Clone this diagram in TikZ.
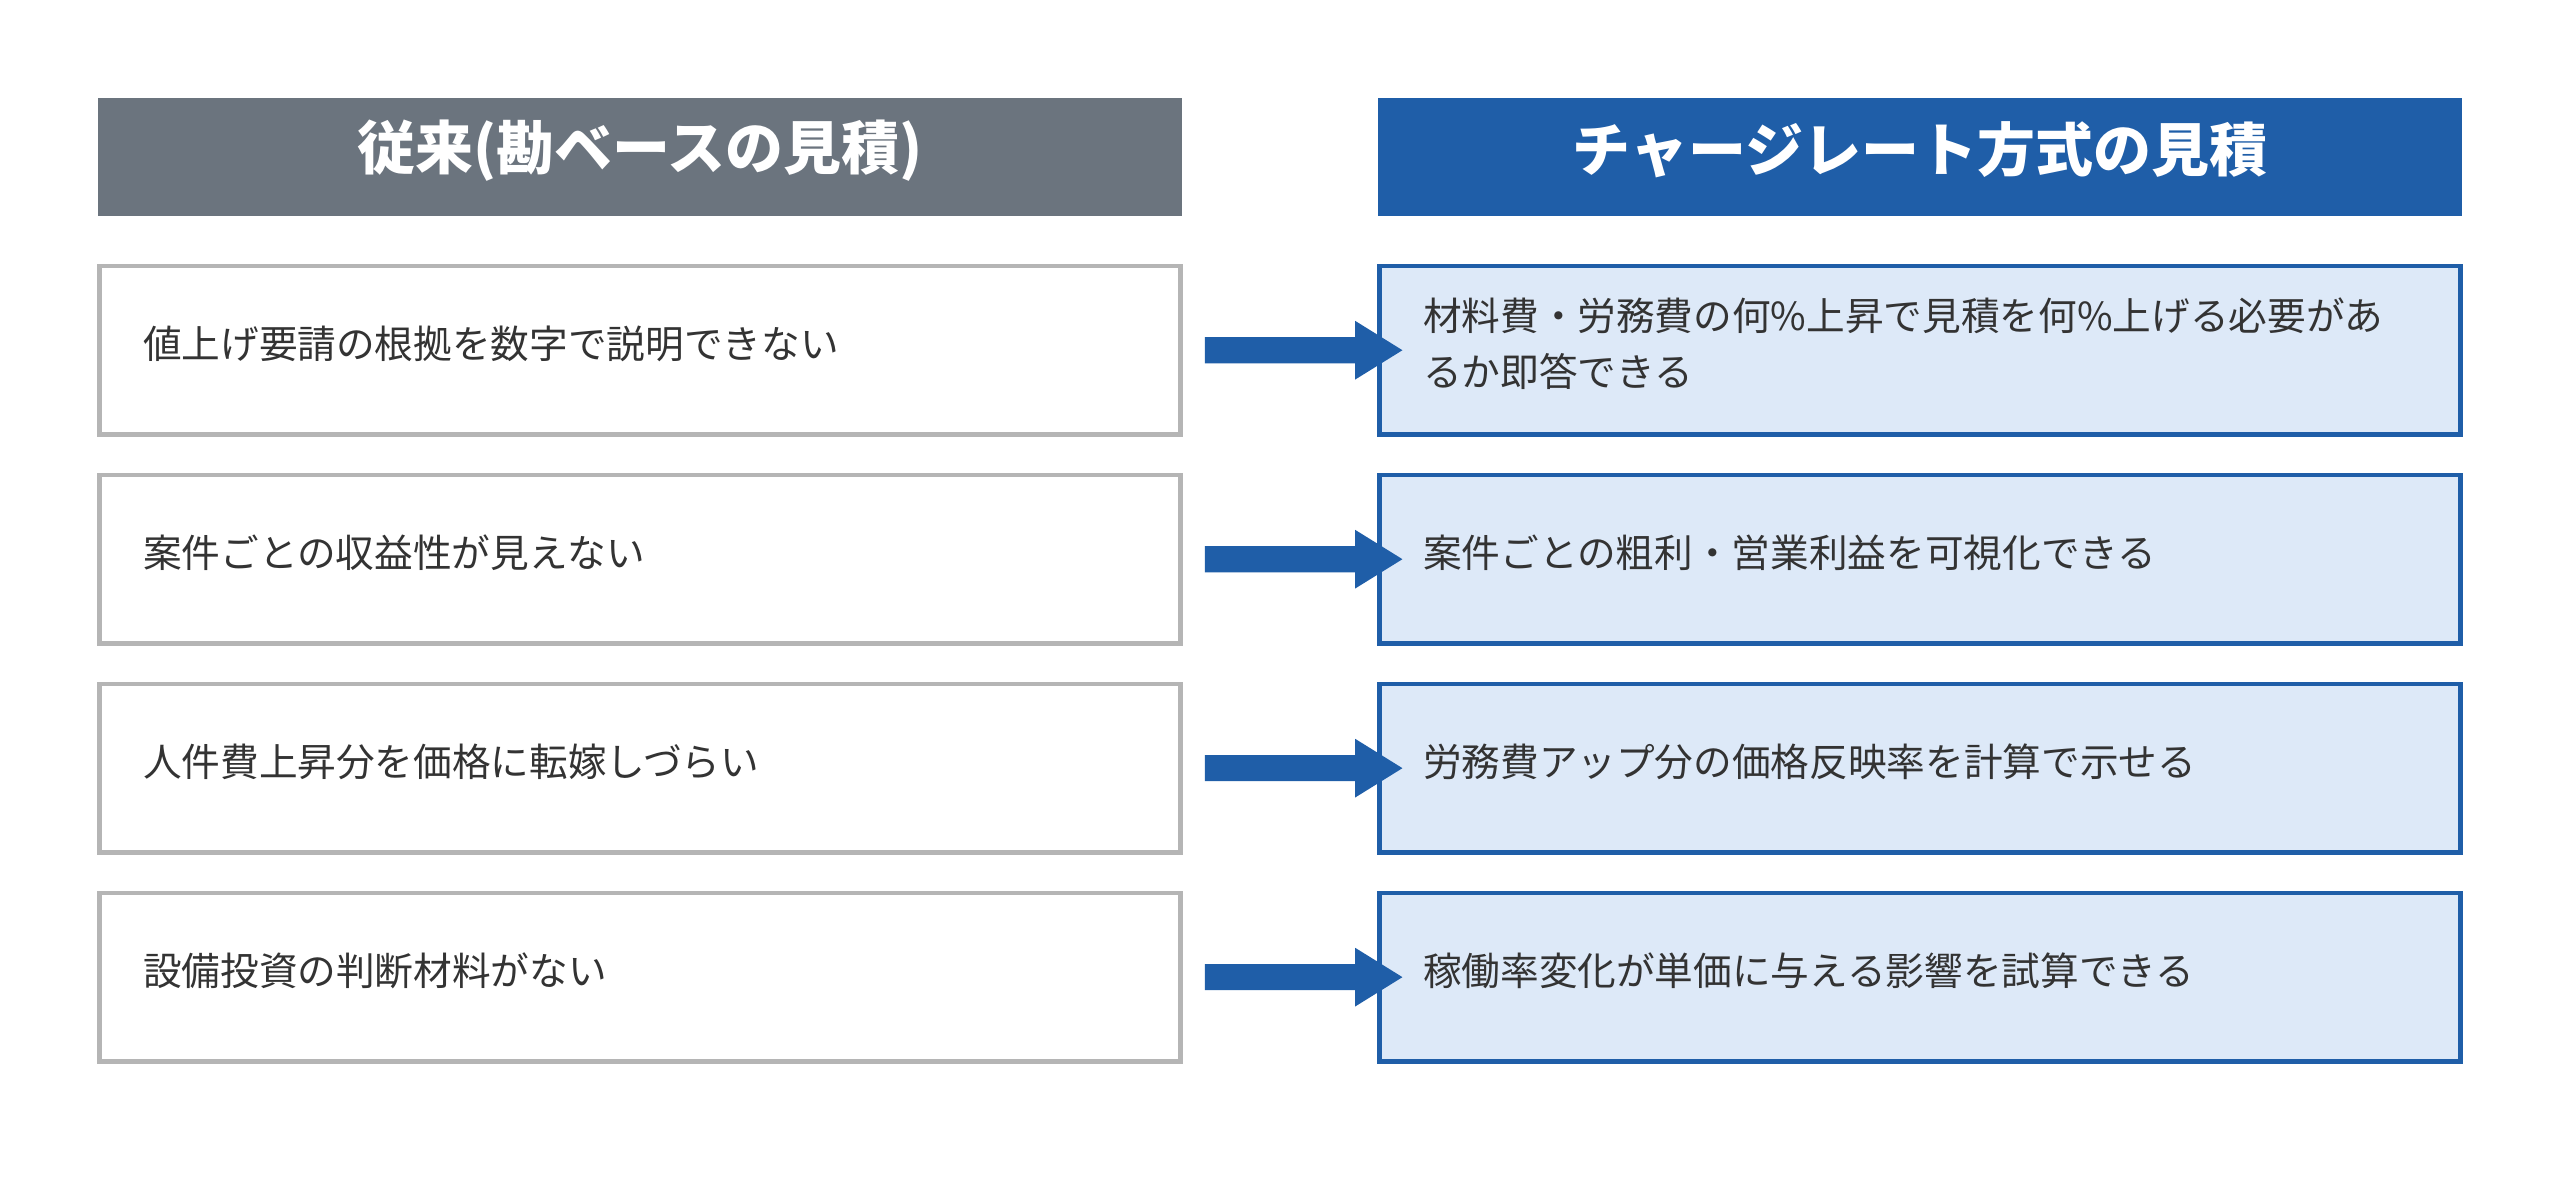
\documentclass[tikz,border=0pt]{standalone}
\usepackage{fontspec}
\setmainfont{Noto Sans CJK JP}
\definecolor{hgray}{HTML}{6B747E}
\definecolor{hblue}{HTML}{1F5EA8}
\definecolor{lblue}{HTML}{DDE9F8}
\definecolor{lgray}{HTML}{B5B5B5}
\definecolor{txt}{HTML}{333333}
\begin{document}
\begin{tikzpicture}[x=0.01633cm,y=-0.01633cm,
  hdr/.style={draw=none,minimum width=664\pgflinewidth,text=white,font=\fontsize{16.5}{20}\selectfont\bfseries},
  lbox/.style={draw=lgray,line width=1.3pt,fill=white},
  rbox/.style={draw=hblue,line width=1.3pt,fill=lblue},
  t/.style={anchor=west,text=txt,font=\fontsize{11}{16}\selectfont,align=left},
  arr/.style={draw=none,fill=hblue}]
\useasboundingbox (0,0) rectangle (1568,734);
\fill[hgray] (60,60) rectangle (724,132);
\fill[hblue] (844,60) rectangle (1508,132);
\node[text=white,font=\fontsize{16.5}{20}\selectfont\bfseries] (h1) at (392,92) {従来(勘ベースの見積)};
\node[text=white,font=\fontsize{16.5}{20}\selectfont\bfseries] (h2) at (1176,92) {チャージレート方式の見積};
\foreach \i/\l/\r in {0/{値上げ要請の根拠を数字で説明できない}/{材料費・労務費の何\%上昇で見積を何\%上げる必要があ\\るか即答できる},
  1/{案件ごとの収益性が見えない}/{案件ごとの粗利・営業利益を可視化できる},
  2/{人件費上昇分を価格に転嫁しづらい}/{労務費アップ分の価格反映率を計算で示せる},
  3/{設備投資の判断材料がない}/{稼働率変化が単価に与える影響を試算できる}}{
  \pgfmathsetmacro\yt{163+128*\i}
  \pgfmathsetmacro\yb{266+128*\i}
  \pgfmathsetmacro\yc{214.5+128*\i}
  \draw[lbox] (61,\yt) rectangle (723,\yb);
  \draw[rbox] (845,\yt) rectangle (1507,\yb);
  \node[t] (l\i) at (80,\yc-4) {\l};
  \node[t] (r\i) at (864,\yc-4) {\r};
  \fill[arr] (738,\yc-8) -- (830,\yc-8) -- (830,\yc-18) -- (859,\yc) -- (830,\yc+18) -- (830,\yc+8) -- (738,\yc+8) -- cycle;
}
\end{tikzpicture}
\end{document}
